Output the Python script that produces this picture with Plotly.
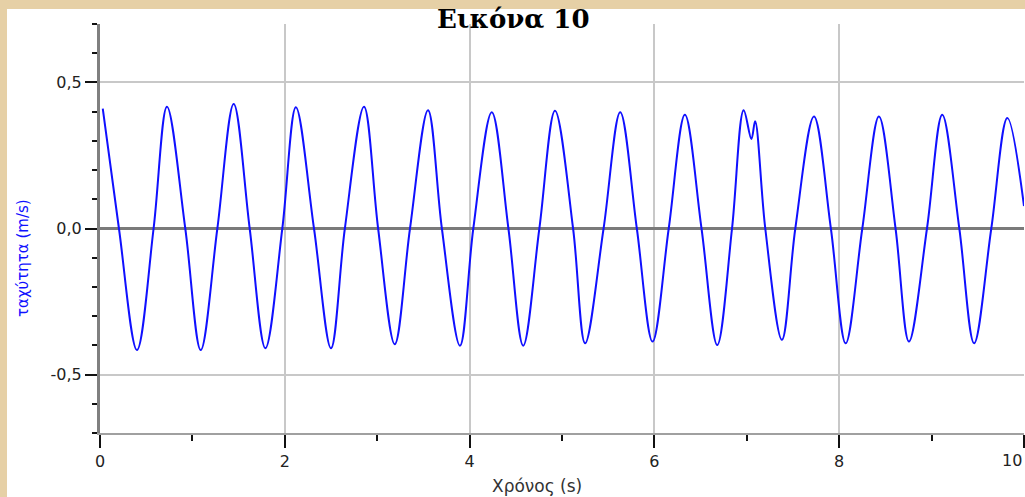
import plotly.graph_objects as go

# Measured velocity of the oscillator: peaks, troughs and zero crossings
time_s = [0.03, 0.205, 0.40, 0.58, 0.725, 0.923, 1.09, 1.27, 1.447, 1.62,
          1.79, 1.973, 2.12, 2.316, 2.50, 2.65, 2.857, 3.01, 3.19, 3.355,
          3.55, 3.70, 3.896, 4.04, 4.24, 4.42, 4.58, 4.755, 4.924, 5.12,
          5.25, 5.45, 5.63, 5.81, 5.98, 6.155, 6.33, 6.51, 6.68, 6.84,
          6.966, 7.05, 7.09, 7.20, 7.38, 7.525, 7.727, 7.91, 8.07, 8.25,
          8.43, 8.61, 8.755, 8.95, 9.115, 9.30, 9.46, 9.646, 9.82, 10.0]
velocity = [0.41, 0.0, -0.416, 0.0, 0.417, 0.0, -0.416, 0.0, 0.426, 0.0,
            -0.41, 0.0, 0.415, 0.0, -0.41, 0.0, 0.417, 0.0, -0.396, 0.0,
            0.405, 0.0, -0.401, 0.0, 0.398, 0.0, -0.401, 0.0, 0.403, 0.0,
            -0.393, 0.0, 0.398, 0.0, -0.387, 0.0, 0.389, 0.0, -0.399, 0.0,
            0.405, 0.306, 0.367, 0.0, -0.381, 0.0, 0.383, 0.0, -0.393, 0.0,
            0.383, 0.0, -0.387, 0.0, 0.389, 0.0, -0.393, 0.0, 0.378, 0.077]

y_tick_vals = [-0.5, 0.0, 0.5]
y_tick_text = ["-0,5", "0,0", "0,5"]
x_tick_vals = [0, 2, 4, 6, 8, 10]
x_tick_text = ["0", "2", "4", "6", "8", "10"]

W, H = 1025, 497
L, R, T, B = 100, 1, 24, 64
PW, PH = W - L - R, H - T - B


def px(x):
    return (x - L) / PW


def py(y):
    return (H - B - y) / PH


fig = go.Figure()
fig.add_trace(go.Scatter(
    x=time_s, y=velocity, mode="lines",
    line=dict(color="#1010ff", width=2, shape="spline", smoothing=1),
    hoverinfo="skip", showlegend=False,
))

# white panel on the parchment background
fig.add_shape(type="rect", xref="paper", yref="paper",
              x0=px(7), x1=px(W + 5), y0=py(H + 5), y1=py(9),
              fillcolor="white", line=dict(width=0), layer="below")

fig.update_layout(
    width=W, height=H,
    margin=dict(l=L, r=R, t=T, b=B, pad=0),
    paper_bgcolor="#E6D0A6",
    plot_bgcolor="rgba(0,0,0,0)",
    font=dict(family="DejaVu Sans", color="#222222"),
    annotations=[
        dict(text="<b>Εικόνα 10</b>", xref="paper", yref="paper",
             x=px(513), y=py(19), xanchor="center", yanchor="middle",
             showarrow=False, font=dict(family="DejaVu Serif", size=26, color="#000000")),
        dict(text="Χρόνος (s)", xref="paper", yref="paper",
             x=px(537), y=py(486), xanchor="center", yanchor="middle",
             showarrow=False, font=dict(family="DejaVu Sans", size=17, color="#333333")),
        dict(text="ταχύτητα (m/s)", xref="paper", yref="paper",
             x=px(23), y=py(258), xanchor="center", yanchor="middle", textangle=-90,
             showarrow=False, font=dict(family="DejaVu Sans", size=15, color="#1010ff")),
        # last x tick label, kept inside the right edge of the page
        dict(text=x_tick_text[-1], xref="x", yref="paper",
             x=x_tick_vals[-1], y=py(460), xanchor="right", yanchor="middle",
             showarrow=False, font=dict(family="DejaVu Sans", size=16, color="#222222")),
    ],
)

fig.update_xaxes(
    range=[0, 10], tickmode="array", tickvals=x_tick_vals,
    ticktext=x_tick_text[:-1] + [""],
    ticks="outside", ticklen=13, tickwidth=2, tickcolor="#111111",
    tickfont=dict(family="DejaVu Sans", size=16, color="#222222"),
    showgrid=True, gridcolor="#c8c8c8", gridwidth=2,
    showline=True, linecolor="#a0a0a0", linewidth=2,
    zeroline=False,
    minor=dict(dtick=1, tick0=0, ticks="outside", ticklen=6, tickwidth=2,
               tickcolor="#111111", showgrid=False),
)
fig.update_yaxes(
    range=[-0.7, 0.7], tickmode="array", tickvals=y_tick_vals, ticktext=y_tick_text,
    ticks="outside", ticklen=12, tickwidth=2, tickcolor="#111111",
    tickfont=dict(family="DejaVu Sans", size=16, color="#222222"),
    showgrid=True, gridcolor="#c8c8c8", gridwidth=2,
    showline=True, linecolor="#808080", linewidth=3,
    zeroline=True, zerolinecolor="#7a7a7a", zerolinewidth=3,
    minor=dict(dtick=0.1, tick0=0, ticks="outside", ticklen=5, tickwidth=2,
               tickcolor="#111111", showgrid=False),
)

fig.write_html("out.html")
